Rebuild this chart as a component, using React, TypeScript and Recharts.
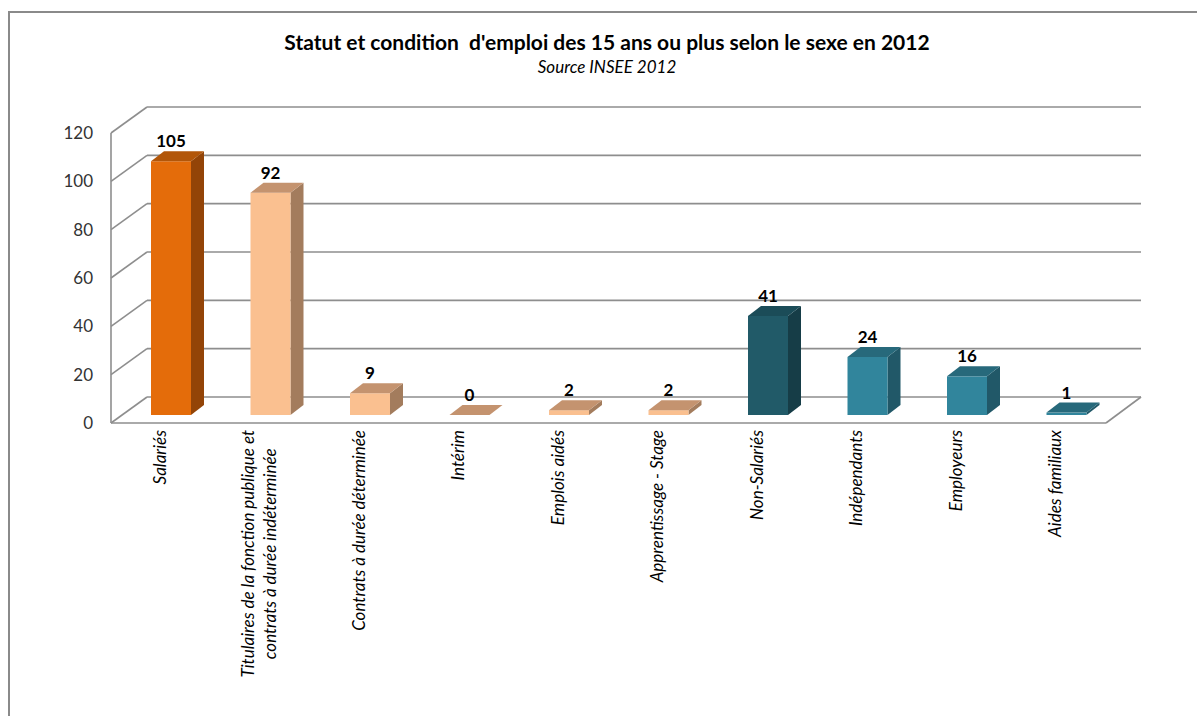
import React from "react";
import { BarChart, Bar, XAxis, YAxis, CartesianGrid, LabelList } from "recharts";

// Statut et condition d'emploi des 15 ans ou plus, INSEE 2012
const categories = [
  "Salariés",
  "Titulaires de la fonction publique et\ncontrats à durée indéterminée",
  "Contrats à durée déterminée",
  "Intérim",
  "Emplois aidés",
  "Apprentissage - Stage",
  "Non-Salariés",
  "Indépendants",
  "Employeurs",
  "Aides familiaux",
];
const values = [105, 92, 9, 0, 2, 2, 41, 24, 16, 1];
const yTicks = [0, 20, 40, 60, 80, 100, 120];

// colour family of each category (front / side / top faces)
const tones: Record<string, { front: string; side: string; top: string }> = {
  orange: { front: "#E46C0A", side: "#934407", top: "#B25609" },
  peach: { front: "#FAC090", side: "#A37C5D", top: "#C4936F" },
  petrol: { front: "#215A68", side: "#163D47", top: "#1B4C58" },
  teal: { front: "#31859C", side: "#215868", top: "#27697B" },
};
const categoryTone = ["orange", "peach", "peach", "peach", "peach", "peach", "petrol", "teal", "teal", "teal"];

const data = categories.map((name, i) => ({ name, value: values[i] }));

const W = 1197;
const H = 716;
const FONT = "Lato, 'Open Sans', sans-serif";
const GRID = "#8E8E8E";
const CAT_SIZE = 17;

// 3D look
const WALL_DX = 36; // depth of the side wall / floor
const WALL_DY = 26;
const BAR_SHIFT_X = 10; // bars sit a little into the floor
const BAR_SHIFT_Y = -8;
const BOX_DX = 13; // depth of each bar
const BOX_DY = 10;

let ctx: CanvasRenderingContext2D | null = null;
function textWidth(s: string, font: string) {
  if (!ctx) ctx = document.createElement("canvas").getContext("2d");
  if (!ctx) return s.length * 7.5;
  ctx.font = font;
  return ctx.measureText(s).width;
}

function WallLine(props: any) {
  const { x1, y1, x2, key } = props;
  const y = y1;
  const bx = x1 + WALL_DX;
  const by = y - WALL_DY;
  const floor = Math.abs(y - (H - 3 - 290)) < 1;
  const common = { stroke: GRID, strokeWidth: 1.6, fill: "none" };
  return (
    <g key={key}>
      <line x1={x1} y1={y} x2={bx} y2={by} {...common} />
      <line x1={bx} y1={by} x2={x2 + WALL_DX - 1} y2={by} {...common} />
      {floor && (
        <>
          <line x1={x1} y1={y} x2={x2} y2={y} {...common} />
          <line x1={x2} y1={y} x2={x2 + WALL_DX - 1} y2={by} {...common} />
        </>
      )}
    </g>
  );
}

function Box3D(props: any) {
  const { x, y, width, height, index } = props;
  const t = tones[categoryTone[index]];
  const fx = x + BAR_SHIFT_X;
  const fy = y + BAR_SHIFT_Y;
  const h = Math.max(0, height);
  const r = fx + width;
  const b = fy + h;
  return (
    <g>
      {h > 0 && (
        <polygon
          points={`${r},${fy} ${r + BOX_DX},${fy - BOX_DY} ${r + BOX_DX},${b - BOX_DY} ${r},${b}`}
          fill={t.side}
        />
      )}
      {h > 0 && <rect x={fx} y={fy} width={width} height={h} fill={t.front} />}
      <polygon
        points={`${fx},${fy} ${r},${fy} ${r + BOX_DX},${fy - BOX_DY} ${fx + BOX_DX},${fy - BOX_DY}`}
        fill={t.top}
      />
    </g>
  );
}

function ValueLabel(props: any) {
  const { viewBox, value } = props;
  if (!viewBox) return null;
  const cx = viewBox.x + viewBox.width / 2 + BAR_SHIFT_X;
  const top = Math.min(viewBox.y, viewBox.y + viewBox.height);
  return (
    <text x={cx} y={top - 22} textAnchor="middle" fontFamily={FONT} fontWeight={700} fontSize={17} fill="#000">
      {value}
    </text>
  );
}

function CategoryTick(props: any) {
  const { x, y, payload } = props;
  const lines = String(payload.value).split("\n");
  const font = `italic ${CAT_SIZE}px Lato`;
  const widths = lines.map((l) => textWidth(l, font));
  const maxW = Math.max(...widths);
  const spacing = 22;
  const first = -5 - ((lines.length - 1) * spacing) / 2;
  const cx = x + BAR_SHIFT_X;
  return (
    <text
      transform={`rotate(-90, ${cx}, ${y})`}
      x={cx}
      y={y}
      textAnchor="end"
      fontFamily={FONT}
      fontStyle="italic"
      fontSize={CAT_SIZE}
      fill="#000"
    >
      {lines.map((l, i) => (
        <tspan key={i} x={cx - (maxW - widths[i]) / 2} y={y + first + i * spacing}>
          {l}
        </tspan>
      ))}
    </text>
  );
}

export default function App() {
  return (
    <div style={{ position: "absolute", left: 0, top: 0, width: W, height: H, background: "#fff", overflow: "hidden" }}>
      <div
        style={{
          position: "absolute",
          left: 8,
          top: 11,
          width: W - 8,
          height: H - 11,
          boxSizing: "border-box",
          borderLeft: "2px solid #8A8A8A",
          borderTop: "2px solid #8A8A8A",
        }}
      />
      <div
        style={{
          position: "absolute",
          left: 0,
          width: 1214,
          top: 29,
          textAlign: "center",
          fontFamily: FONT,
          fontWeight: 700,
          fontSize: 21,
          lineHeight: "26px",
          color: "#000",
        }}
      >
        Statut et condition&nbsp; d'emploi des 15 ans ou plus selon le sexe en 2012
      </div>
      <div
        style={{
          position: "absolute",
          left: 0,
          width: 1214,
          top: 56,
          textAlign: "center",
          fontFamily: FONT,
          fontStyle: "italic",
          fontSize: 17,
          lineHeight: "22px",
          color: "#000",
        }}
      >
        Source INSEE 2012
      </div>
      <div style={{ position: "absolute", left: 0, top: 0 }}>
        <BarChart width={W} height={H} data={data} margin={{ top: 133, right: 91, bottom: 3, left: 0 }}>
          <CartesianGrid vertical={false} horizontal={(p: any) => <WallLine {...p} />} />
          <XAxis
            dataKey="name"
            interval={0}
            height={290}
            axisLine={false}
            tickLine={false}
            tickSize={0}
            tickMargin={7}
            tick={<CategoryTick />}
          />
          <YAxis
            width={111}
            domain={[0, 120]}
            ticks={yTicks}
            interval={0}
            axisLine={{ stroke: GRID, strokeWidth: 1.6 }}
            tickLine={false}
            tickSize={0}
            tickMargin={18}
            tick={{ fill: "#333", fontSize: 17, fontFamily: FONT }}
          />
          <Bar dataKey="value" barSize={40} shape={<Box3D />} isAnimationActive={false}>
            <LabelList dataKey="value" content={<ValueLabel />} />
          </Bar>
        </BarChart>
      </div>
    </div>
  );
}
